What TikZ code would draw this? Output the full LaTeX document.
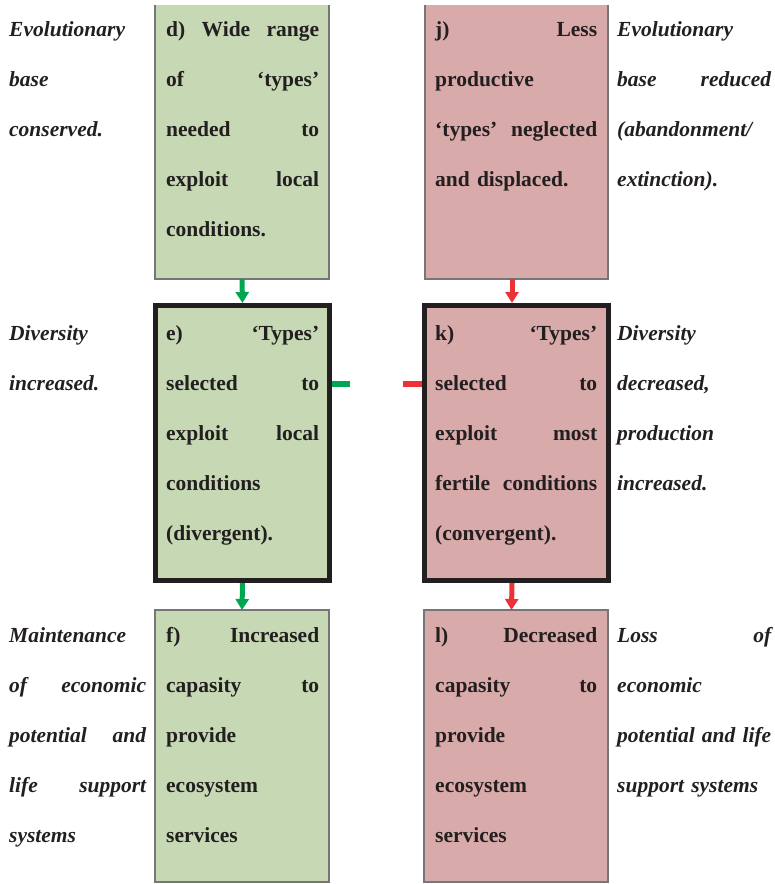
\documentclass[tikz,border=0pt]{standalone}
\usepackage{fontspec}
\setmainfont{Liberation Serif}
\usetikzlibrary{arrows.meta}
\definecolor{gfill}{RGB}{198,217,180}
\definecolor{rfill}{RGB}{217,170,170}
\definecolor{garrow}{RGB}{0,166,81}
\definecolor{rarrow}{RGB}{237,50,55}
\definecolor{ink}{RGB}{35,31,32}
\definecolor{edgegray}{RGB}{118,118,118}
\newcommand\jline[2]{\makebox[#1pt][l]{#2}}
\begin{document}
\begin{tikzpicture}[x=1pt,y=-1pt,
  txt/.style={anchor=base west, inner sep=0pt, align=left, text=ink,
    font=\fontsize{21.5}{50}\selectfont\bfseries},
  itx/.style={txt, font=\fontsize{21.5}{50}\selectfont\bfseries\itshape},
  plainbox/.style={anchor=north west, inner sep=0pt, outer sep=0pt, minimum width=174pt},
  thickbox/.style={anchor=north west, inner sep=0pt, outer sep=0pt, draw=ink, line width=5pt},
  thinedge/.style={draw=edgegray, line width=1.6pt},
  garr/.style={draw=garrow, line width=5pt, -{Triangle[width=13pt,length=11pt]}},
  rarr/.style={draw=rarrow, line width=5pt, -{Triangle[width=13pt,length=11pt]}},
  gstub/.style={draw=garrow, line width=5.5pt},
  rstub/.style={draw=rarrow, line width=5.5pt}]
\useasboundingbox (0,0) rectangle (775,884);

% boxes
\node[plainbox, fill=gfill, minimum width=174pt, minimum height=274pt] (d) at (155,5) {};
\node[plainbox, fill=rfill, minimum width=183pt, minimum height=274pt] (j) at (425,5) {};
\node[thickbox, fill=gfill, minimum width=174pt, minimum height=275pt] (e) at (155.5,305.5) {};
\node[thickbox, fill=rfill, minimum width=184pt, minimum height=275pt] (k) at (424.5,305.5) {};
\node[plainbox, fill=gfill, minimum width=174pt, minimum height=272pt] (f) at (155,610) {};
\node[plainbox, fill=rfill, minimum width=184pt, minimum height=272pt] (l) at (424,610) {};

\draw[thinedge] (d.north west) -- (d.south west) -- (d.south east) -- (d.north east);
\draw[thinedge] (j.north west) -- (j.south west) -- (j.south east) -- (j.north east);
\draw[thinedge] (f.north west) rectangle (f.south east);
\draw[thinedge] (l.north west) rectangle (l.south east);

% arrows
\draw[garr] (d.south) -- ([yshift=2.5pt]e.north);
\draw[garr] ([yshift=-2.5pt]e.south) -- (f.north);
\draw[rarr] ([xshift=-4.5pt]j.south) -- ([xshift=-4.5pt,yshift=2.5pt]k.north);
\draw[rarr] ([xshift=-4.5pt,yshift=-2.5pt]k.south) -- ([xshift=-4.5pt]l.north);

% side stubs
\coordinate (gs) at (350,384);
\coordinate (rs) at (403,384);
\draw[gstub] ([xshift=2.5pt]e.east |- gs) -- (gs);
\draw[rstub] (rs) -- ([xshift=-2.5pt]k.west |- rs);

% row 1
\node[itx, text width=137pt] (t1l) at (9,36) {Evolutionary\\ base\\ conserved.};
\node[txt, text width=153pt] (t1d) at (166,36) {\jline{153}{d)\hfill Wide\hfill range}\\ \jline{153}{of\hfill ‘types’}\\ \jline{153}{needed\hfill to}\\ \jline{153}{exploit\hfill local}\\ conditions.};
\node[txt, text width=162pt] (t1j) at (435,36) {\jline{162}{j)\hfill Less}\\ productive\\ \jline{162}{‘types’\hfill neglected}\\ and displaced.};
\node[itx, text width=154pt] (t1r) at (617,36) {Evolutionary\\ \jline{154}{base\hfill reduced}\\ (abandonment/\\ extinction).};

% row 2
\node[itx, text width=137pt] (t2l) at (9,340) {Diversity\\ increased.};
\node[txt, text width=153pt] (t2e) at (166,340) {\jline{153}{e)\hfill ‘Types’}\\ \jline{153}{selected\hfill to}\\ \jline{153}{exploit\hfill local}\\ conditions\\ (divergent).};
\node[txt, text width=162pt] (t2k) at (435,340) {\jline{162}{k)\hfill ‘Types’}\\ \jline{162}{selected\hfill to}\\ \jline{162}{exploit\hfill most}\\ \jline{162}{fertile\hfill conditions}\\ (convergent).};
\node[itx, text width=154pt] (t2r) at (617,340) {Diversity\\ decreased,\\ production\\ increased.};

% row 3
\node[itx, text width=137pt] (t3l) at (9,642) {Maintenance\\ \jline{137}{of\hfill economic}\\ \jline{137}{potential\hfill and}\\ \jline{137}{life\hfill support}\\ systems};
\node[txt, text width=153pt] (t3f) at (166,642) {\jline{153}{f)\hfill Increased}\\ \jline{153}{capasity\hfill to}\\ provide\\ ecosystem\\ services};
\node[txt, text width=162pt] (t3l2) at (435,642) {\jline{162}{l)\hfill Decreased}\\ \jline{162}{capasity\hfill to}\\ provide\\ ecosystem\\ services};
\node[itx, text width=154pt] (t3r) at (617,642) {\jline{154}{Loss\hfill of}\\ economic\\ \jline{154}{potential\hfill and\hfill life}\\ support systems};
\end{tikzpicture}
\end{document}
